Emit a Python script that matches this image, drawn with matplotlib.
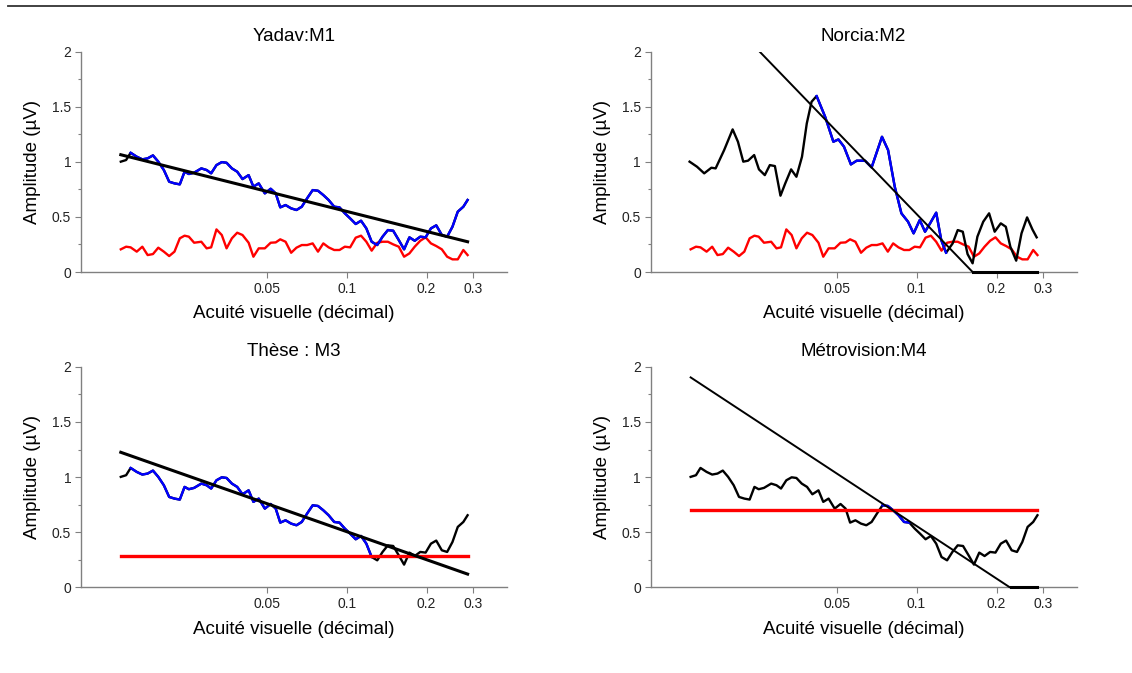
import matplotlib.pyplot as plt
import numpy as np
from matplotlib.lines import Line2D
from matplotlib.ticker import FixedLocator, NullLocator
from matplotlib.transforms import Bbox, TransformedBbox

plt.rcParams['font.family'] = ['Liberation Sans', 'DejaVu Sans']

# sweep steps in logMAR (decimal acuity = 10**-logMAR)
logmar = [1.850, 1.830, 1.813, 1.790, 1.769, 1.749, 1.729, 1.709, 1.688, 1.668,
          1.648, 1.628, 1.610, 1.594, 1.574, 1.547, 1.527, 1.510, 1.490, 1.470,
          1.452, 1.432, 1.412, 1.392, 1.369, 1.351, 1.331, 1.308, 1.286, 1.267,
          1.250, 1.230, 1.209, 1.189, 1.169, 1.149, 1.128, 1.108, 1.088, 1.068,
          1.047, 1.027, 1.007, 0.987, 0.966, 0.946, 0.926, 0.906, 0.885, 0.865,
          0.845, 0.825, 0.804, 0.784, 0.764, 0.744, 0.723, 0.703, 0.683, 0.663,
          0.642, 0.622, 0.602, 0.582, 0.561, 0.545]

# amplitude (µV) used for M1, M3, M4
sweep = [1.002, 1.017, 1.083, 1.047, 1.023, 1.032, 1.059, 1.002, 0.926, 0.820,
         0.805, 0.796, 0.911, 0.890, 0.902, 0.941, 0.926, 0.896, 0.971, 0.998,
         0.992, 0.941, 0.911, 0.844, 0.880, 0.775, 0.805, 0.714, 0.756, 0.714,
         0.587, 0.608, 0.578, 0.563, 0.593, 0.669, 0.744, 0.738, 0.699, 0.654,
         0.593, 0.587, 0.533, 0.487, 0.436, 0.466, 0.396, 0.275, 0.245, 0.321,
         0.381, 0.375, 0.290, 0.206, 0.315, 0.284, 0.321, 0.315, 0.396, 0.424,
         0.336, 0.321, 0.411, 0.548, 0.593, 0.654]

# noise amplitude (red)
noise = [0.206, 0.230, 0.224, 0.185, 0.230, 0.154, 0.163, 0.221, 0.185, 0.145,
         0.185, 0.306, 0.330, 0.321, 0.266, 0.275, 0.215, 0.224, 0.387, 0.336,
         0.215, 0.306, 0.357, 0.336, 0.266, 0.139, 0.215, 0.215, 0.266, 0.269,
         0.297, 0.275, 0.175, 0.221, 0.245, 0.245, 0.260, 0.185, 0.260, 0.224,
         0.200, 0.200, 0.230, 0.224, 0.312, 0.330, 0.275, 0.194, 0.266, 0.275,
         0.275, 0.251, 0.230, 0.139, 0.169, 0.230, 0.284, 0.315, 0.260, 0.236,
         0.206, 0.139, 0.115, 0.115, 0.200, 0.154]

# signal used for M2
logmar_norcia = [1.854, 1.826, 1.799, 1.772, 1.756, 1.724, 1.692, 1.672, 1.652, 1.634,
                 1.611, 1.593, 1.571, 1.552, 1.533, 1.512, 1.494, 1.472, 1.452, 1.431,
                 1.413, 1.395, 1.376, 1.344, 1.313, 1.294, 1.273, 1.247, 1.225, 1.194,
                 1.169, 1.130, 1.107, 1.082, 1.057, 1.032, 1.011, 0.988, 0.968, 0.949,
                 0.926, 0.907, 0.889, 0.864, 0.845, 0.826, 0.808, 0.789, 0.771, 0.749,
                 0.727, 0.706, 0.683, 0.664, 0.647, 0.625, 0.605, 0.584, 0.564, 0.548]
sweep_norcia = [1.002, 0.956, 0.896, 0.947, 0.941, 1.107, 1.295, 1.183, 1.002, 1.011,
                1.062, 0.932, 0.880, 0.971, 0.962, 0.693, 0.805, 0.932, 0.865, 1.047,
                1.349, 1.546, 1.598, 1.410, 1.183, 1.204, 1.138, 0.977, 1.011, 1.011,
                0.950, 1.228, 1.107, 0.775, 0.533, 0.457, 0.351, 0.472, 0.366, 0.442,
                0.539, 0.290, 0.175, 0.260, 0.381, 0.366, 0.163, 0.079, 0.321, 0.457,
                0.533, 0.366, 0.442, 0.411, 0.230, 0.103, 0.351, 0.496, 0.387, 0.315]

titles = ["Yadav:M1", "Norcia:M2", "Thèse : M3", "Métrovision:M4"]
# logMAR range of the fit (drawn in blue)
fit_range = [(1.813, 0.545), (1.376, 0.889), (1.813, 0.906), (1.128, 1.027)]
# regression amplitude = a + b * log10(acuity), clipped at 0
reg_a = [-0.055, -1.970, -0.3415, -1.029]
reg_b = [-0.6054, -2.497, -0.8467, -1.5856]
reg_lw = [2.2, 1.4, 2.2, 1.4]
# noise: None -> noise trace, value -> flat noise level
noise_level = [None, None, 0.28, 0.70]

positions = [
    [0.0715, 0.5958, 0.3761, 0.3273],
    [0.5749, 0.5958, 0.3761, 0.3273],
    [0.0715, 0.1273, 0.3761, 0.3276],
    [0.5749, 0.1273, 0.3761, 0.3276],
]

fig = plt.figure(figsize=(11.32, 6.73), dpi=100)
fig.add_artist(Line2D([0.0073, 1.0], [0.9915, 0.9915], color='#333333', lw=1.3))

grey = '#808080'
for i in range(4):
    ax = fig.add_axes(positions[i])
    if i == 1:
        lm = np.array(logmar_norcia)
        sig = np.array(sweep_norcia)
    else:
        lm = np.array(logmar)
        sig = np.array(sweep)
    acu = 10 ** (-lm)
    acu_n = 10 ** (-np.array(logmar))

    # noise
    if noise_level[i] is None:
        ax.plot(acu_n, noise, color='red', lw=1.7, zorder=2)

    # signal, black with fitted part in blue
    ax.plot(acu, sig, color='black', lw=1.7, zorder=3)
    lo, hi = fit_range[i]
    m = (lm <= lo + 1e-9) & (lm >= hi - 1e-9)
    ax.plot(acu[m], sig[m], color='blue', lw=1.7, zorder=4)

    if noise_level[i] is not None:
        ax.plot([acu_n.min(), acu_n.max()], [noise_level[i]] * 2, color='red', lw=2.4, zorder=5)

    # regression line (let the part lying on 0 show at full width)
    lgrid = np.linspace(min(logmar), max(logmar), 400)
    reg = np.clip(reg_a[i] + reg_b[i] * (-lgrid), 0, None)
    line, = ax.plot(10 ** (-lgrid), reg, color='black', lw=reg_lw[i], zorder=6)
    line.set_clip_box(TransformedBbox(Bbox([[0, -0.03], [1, 1]]), ax.transAxes))
    flat = reg == 0
    if flat.any():
        ax.plot(10 ** (-lgrid[flat]), reg[flat], color='black', lw=2.2, zorder=6, clip_on=False)

    ax.set_xscale('log')
    ax.set_xlim(0.01, 0.4)
    ax.set_ylim(0, 2)
    ax.xaxis.set_major_locator(FixedLocator([0.05, 0.1, 0.2, 0.3]))
    ax.xaxis.set_minor_locator(NullLocator())
    ax.set_xticklabels(['0.05', '0.1', '0.2', '0.3'])
    ax.yaxis.set_major_locator(FixedLocator([0, 0.5, 1, 1.5, 2]))
    ax.yaxis.set_minor_locator(FixedLocator([0.25, 0.75, 1.25, 1.75]))
    ax.set_yticklabels(['0', '0.5', '1', '1.5', '2'])
    ax.tick_params(axis='both', which='major', length=4, width=0.8, color=grey,
                   labelsize=10, labelcolor='#222222', pad=3)
    ax.tick_params(axis='y', which='minor', length=2.5, width=0.8, color=grey)
    for s in ['top', 'right']:
        ax.spines[s].set_visible(False)
    for s in ['left', 'bottom']:
        ax.spines[s].set_color(grey)
        ax.spines[s].set_linewidth(1.0)
        ax.spines[s].set_zorder(1)

    ax.set_title(titles[i], fontsize=13.5, pad=8)
    ax.set_xlabel('Acuité visuelle (décimal)', fontsize=13.5, labelpad=7)
    ax.set_ylabel('Amplitude (µV)', fontsize=13.5, labelpad=8)

fig.savefig('out.png', dpi=100)
